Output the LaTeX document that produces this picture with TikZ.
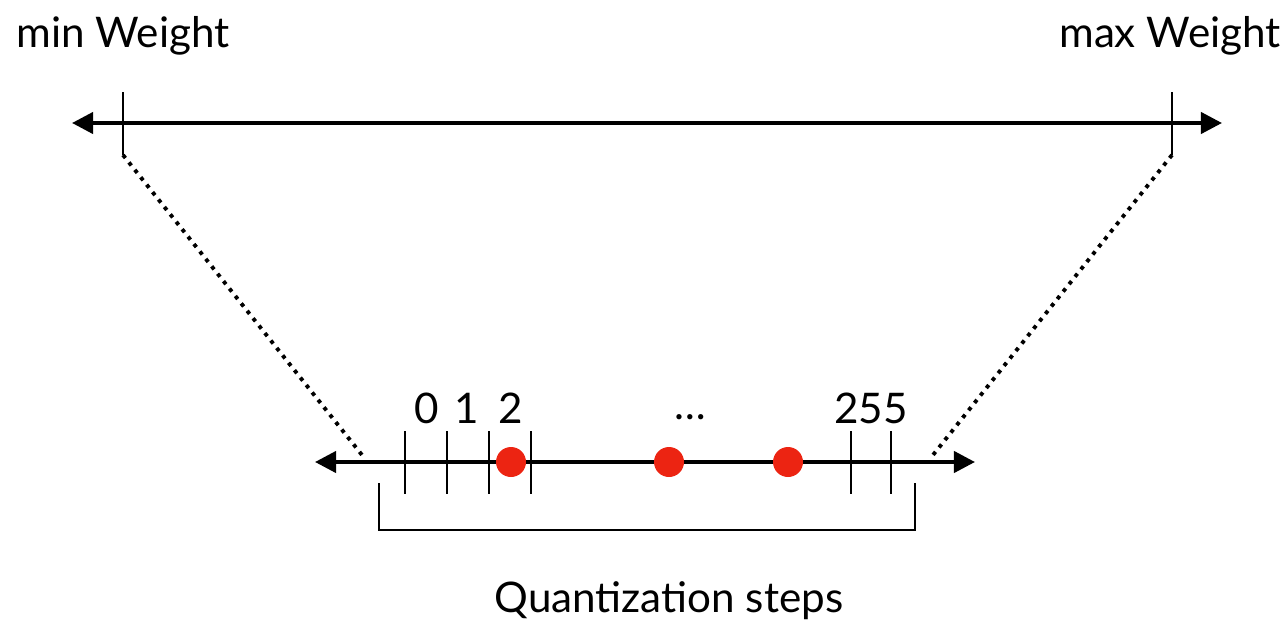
\documentclass[tikz,border=0pt]{standalone}
\usepackage{fontspec}
\setmainfont{Lato}
\usetikzlibrary{arrows.meta}
\definecolor{dotred}{RGB}{236,36,18}

\begin{document}
\begin{tikzpicture}[x=0.02cm, y=-0.02cm,
  axis/.style ={line width=2.3pt, {Triangle[length=12pt,width=12pt]}-{Triangle[length=12pt,width=12pt]}},
  tick/.style ={line width=1.6pt},
  map/.style  ={line width=2.2pt, dash pattern=on 2.2pt off 3.2pt},
  level/.style={fill=dotred, draw=none},
  lbl/.style  ={font=\fontsize{24}{28}\selectfont, inner sep=0pt}]

  \useasboundingbox (0,0) rectangle (1288,622);

  % full weight range (top)
  \draw[axis] (72,123) -- (1222,123);
  \draw[tick] (123,92) coordinate (lo top) -- (123,155) coordinate (lo bot);
  \draw[tick] (1172,92) coordinate (hi top) -- (1172,155) coordinate (hi bot);
  \node[lbl] (minw) at (123,36) {min Weight};
  \node[lbl] (maxw) at (1170,36) {max Weight};

  % 8-bit grid (bottom)
  \draw[axis] (315,462) -- (975,462);
  \foreach \x in {405,447,489,531,851,891}{\draw[tick] (\x,431) -- (\x,494);}
  \node[lbl] (q0) at (427,408) {0};
  \node[lbl] (q1) at (467,408) {1};
  \node[lbl] (q2) at (511,408) {2};
  \node[lbl] (qdots) at (690,417) {\dots};
  \node[lbl] (q255) at (871,408) {255};

  % weights snapped onto the grid
  \foreach \x/\n in {511/a,669/b,788/c}{\fill[level] (\x,462) coordinate (w\n) circle [radius=15];}

  % range mapping
  \coordinate (lo end) at (362,455);
  \coordinate (hi end) at (933,455);
  \draw[map] (lo bot) -- (lo end);
  \draw[map] (hi bot) -- (hi end);

  % bracket over all steps
  \draw[tick] (379,483) -- (379,530) -- (915,530) -- (915,483);
  \node[lbl] (steps) at (669,601) {Quantization steps};
\end{tikzpicture}
\end{document}
